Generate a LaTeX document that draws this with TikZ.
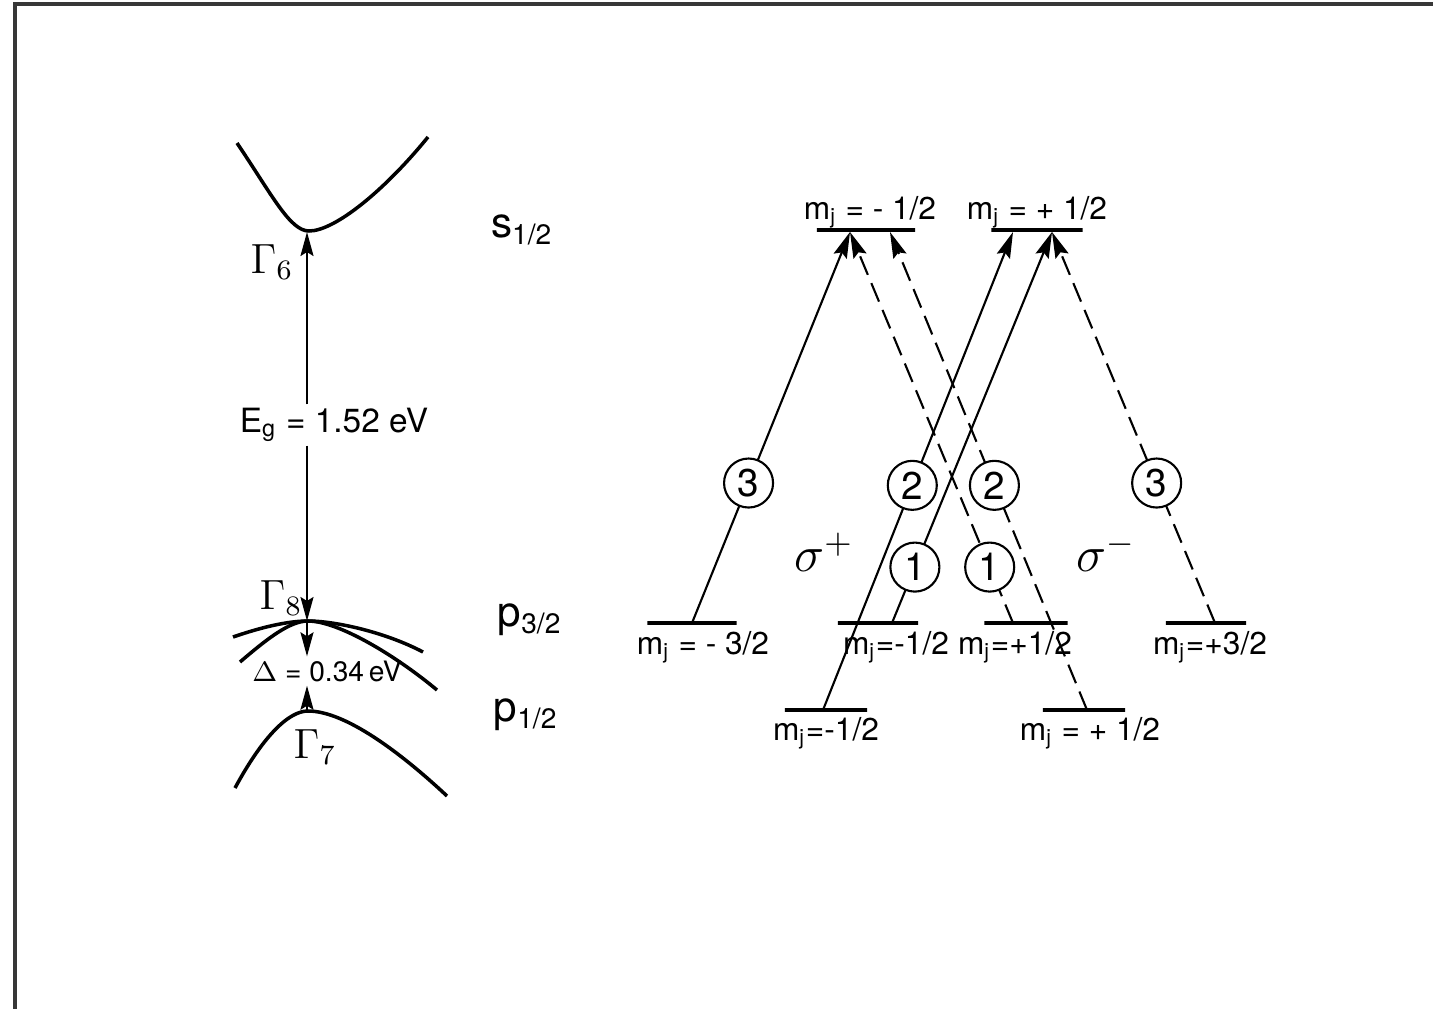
\documentclass[tikz,border=0pt]{standalone}
\usepackage{fontspec}
\setmainfont{TeX Gyre Heros}
\usepackage{tikz}
\usetikzlibrary{arrows.meta, positioning}
\definecolor{framegray}{RGB}{55, 55, 55}

\tikzset{
  band/.style={line width=1pt},
  level/.style={draw, line width=1.2pt, minimum height=0pt, inner sep=0pt},
  trans/.style={line width=0.6pt, -{Stealth[length=2.6mm, width=1.4mm, inset=0.4mm]}},
  transdash/.style={trans, dash pattern=on 2mm off 0.9mm},
  gaparrow/.style={line width=0.6pt, -{Stealth[length=2.4mm, width=1.3mm, inset=0.4mm]}},
  num/.style={draw, solid, circle, fill=white, line width=0.6pt, inner sep=0pt, minimum size=4.9mm, font=\fontsize{11}{13}\selectfont},
  mjlabel/.style={font=\fontsize{9}{10}\selectfont, inner sep=1pt},
  termlabel/.style={font=\large, inner sep=1pt},
}

\begin{document}
\begin{tikzpicture}[x=0.01cm, y=-0.01cm]
  \useasboundingbox (0,0) rectangle (1433,1009);

  % --- Ramka ---
  \draw[framegray, line width=0.9pt] (15,1009) -- (15,4) -- (1433,4);

  % --- Pasma (lewa strona) ---
  % Gamma_6
  \draw[band] (237,143) .. controls (272,195) and (290,231) .. (309,231)
              .. controls (335,231) and (385,190) .. (428,137);
  % Gamma_8 (dwa pasma)
  \draw[band] (233,637) .. controls (262,627) and (288,621) .. (308,621)
              .. controls (335,621) and (385,632) .. (423,652);
  \draw[band] (240,662) .. controls (268,638) and (290,621) .. (308,621)
              .. controls (338,621) and (395,655) .. (437,690);
  % Gamma_7
  \draw[band] (235,788) .. controls (262,738) and (288,711) .. (308,711)
              .. controls (345,711) and (400,752) .. (447,796);

  \coordinate (gsix) at (307,232);
  \coordinate (geight) at (307,621);
  \coordinate (gseven) at (307,711);

  \node[termlabel] (g6lab) at (272,262) {$\Gamma_6$};
  \node[termlabel] (g8lab) at (281,598) {$\Gamma_8$};
  \node[termlabel] (g7lab) at (315,747) {$\Gamma_7$};

  % Przerwa energetyczna
  \node[font=\fontsize{9.5}{11}\selectfont, inner sep=1pt] (eg) at (334,425) {E\textsubscript{g} = 1.52 eV};
  \draw[gaparrow] (eg.north -| gsix) -- (gsix);
  \draw[gaparrow] (eg.south -| geight) -- (geight);

  % Rozszczepienie spin-orbita
  \node[font=\fontsize{8}{9}\selectfont, inner sep=1pt] (delta) at (327,671) {$\Delta$ = 0.34\,eV};
  \draw[gaparrow] (geight) -- (delta.north -| geight);
  \draw[gaparrow] (gseven) -- (delta.south -| gseven);

  % Symbole termow
  \node[termlabel] (s12) at (522,230) {s\textsubscript{1/2}};
  \node[termlabel] (p32) at (530,620) {p\textsubscript{3/2}};
  \node[termlabel] (p12) at (526,715) {p\textsubscript{1/2}};

  % --- Poziomy (prawa strona) ---
  \node[level, minimum width=0.98cm] (sm) at (866,230) {};
  \node[level, minimum width=0.91cm] (sp) at (1037,230) {};
  \node[level, minimum width=0.89cm] (hA) at (692,623) {};
  \node[level, minimum width=0.80cm] (hB) at (878,623) {};
  \node[level, minimum width=0.83cm] (hC) at (1026,623) {};
  \node[level, minimum width=0.80cm] (hD) at (1206,623) {};
  \node[level, minimum width=0.82cm] (lA) at (826,710) {};
  \node[level, minimum width=0.82cm] (lB) at (1084,710) {};

  \node[mjlabel] at (870,212) {m\textsubscript{j} = - 1/2};
  \node[mjlabel] at (1037,212) {m\textsubscript{j} = + 1/2};
  \node[mjlabel] at (703,647) {m\textsubscript{j} = - 3/2};
  \node[mjlabel] at (896,647) {m\textsubscript{j}=-1/2};
  \node[mjlabel] at (1015,647) {m\textsubscript{j}=+1/2};
  \node[mjlabel] at (1210,647) {m\textsubscript{j}=+3/2};
  \node[mjlabel] at (826,733) {m\textsubscript{j}=-1/2};
  \node[mjlabel] at (1090,733) {m\textsubscript{j} = + 1/2};

  % Punkty zaczepienia przejsc
  \coordinate (a3) at (692,623);
  \coordinate (a1) at (892,623);
  \coordinate (a2) at (823,710);
  \coordinate (b1) at (1013,623);
  \coordinate (b2) at (1087,710);
  \coordinate (b3) at (1215,623);
  \coordinate (t1) at (850,232);
  \coordinate (t2) at (890,232);
  \coordinate (t3) at (1013,232);
  \coordinate (t4) at (1052,232);

  % sigma+ (linie ciagle)
  \draw[trans] (a3) -- node[num, pos=0.358] {3} (t1);
  \draw[trans] (a2) -- node[num, pos=0.47] {2} (t3);
  \draw[trans] (a1) -- node[num, pos=0.143] {1} (t4);

  % sigma- (linie przerywane)
  \draw[transdash] (b3) -- node[num, pos=0.358] {3} (t4);
  \draw[transdash] (b2) -- node[num, pos=0.47] {2} (t2);
  \draw[transdash] (b1) -- node[num, pos=0.143] {1} (t1);

  \node[font=\Large] (sigp) at (824,552) {$\sigma^{+}$};
  \node[font=\Large] (sigm) at (1106,552) {$\sigma^{-}$};
\end{tikzpicture}
\end{document}
